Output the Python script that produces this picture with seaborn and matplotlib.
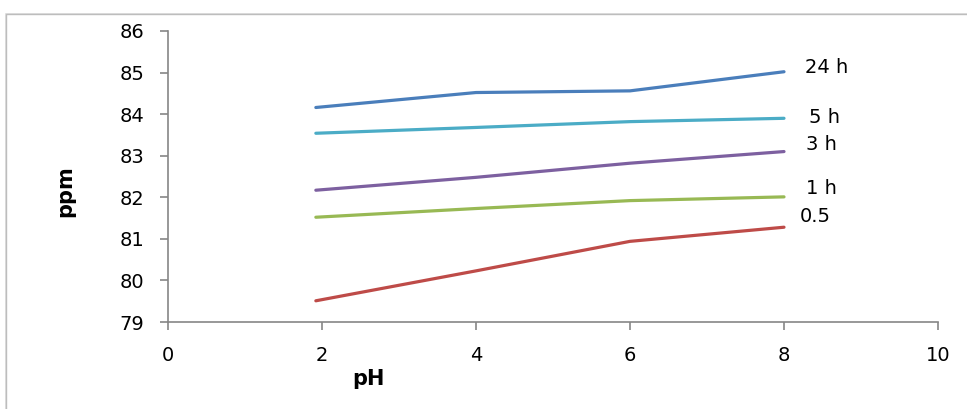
import matplotlib
matplotlib.use("Agg")
import matplotlib.pyplot as plt
from matplotlib.patches import Rectangle
import seaborn as sns
import pandas as pd

# pH values at which concentrations were measured
ph = [1.92, 4, 6, 8]

# concentration (ppm) for each contact time
series_names = ["24 h", "5 h", "3 h", "1 h", "0.5"]
ppm_24h = [84.16, 84.52, 84.56, 85.02]
ppm_5h = [83.54, 83.68, 83.82, 83.90]
ppm_3h = [82.17, 82.48, 82.82, 83.10]
ppm_1h = [81.52, 81.73, 81.92, 82.01]
ppm_05h = [79.51, 80.23, 80.94, 81.28]

colors = ["#4A7EBB", "#4BACC6", "#7D60A0", "#98B954", "#BE4B48"]

x_ticks = [0, 2, 4, 6, 8, 10]
y_ticks = [79, 80, 81, 82, 83, 84, 85, 86]

sns.set_theme(style="white")
plt.rcParams["font.family"] = ["DejaVu Sans"]

values = [ppm_24h, ppm_5h, ppm_3h, ppm_1h, ppm_05h]
df = pd.concat(
    [pd.DataFrame({"pH": ph, "ppm": v, "time": name}) for name, v in zip(series_names, values)],
    ignore_index=True,
)

fig = plt.figure(figsize=(9.67, 4.09), dpi=100)

# chart area frame with a soft shadow
for i, a in enumerate([0.05, 0.08, 0.12]):
    fig.patches.append(Rectangle((5 / 967 + (3 - i) * 0.0008, -0.1), 1.2, 1.1 - 13 / 409 - (3 - i) * 0.002,
                                 transform=fig.transFigure, facecolor="none",
                                 edgecolor=(0, 0, 0, a), linewidth=2.5 - i * 0.6, zorder=-10))
fig.patches.append(Rectangle((6 / 967, -0.1), 1.2, 1.1 - 14 / 409, transform=fig.transFigure,
                             facecolor="white", edgecolor="#BDBDBD", linewidth=1.0, zorder=-9))

ax = fig.add_axes([168 / 967, 1 - 322 / 409, (938 - 168) / 967, (322 - 31) / 409])
ax.set_facecolor("none")
ax.set_zorder(5)

sns.lineplot(data=df, x="pH", y="ppm", hue="time", palette=colors, linewidth=2.3,
             legend=False, ax=ax, sort=False)

ax.set_xlim(0, 10)
ax.set_ylim(79, 86)
ax.set_xticks(x_ticks)
ax.set_yticks(y_ticks)
ax.set_xticklabels([str(t) for t in x_ticks], fontsize=14, color="black")
ax.set_yticklabels([str(t) for t in y_ticks], fontsize=14, color="black")

for s in ["top", "right"]:
    ax.spines[s].set_visible(False)
for s in ["left", "bottom"]:
    ax.spines[s].set_color("#868686")
    ax.spines[s].set_linewidth(1.2)
ax.tick_params(axis="both", direction="out", length=6, width=1.2, color="#868686", pad=11,
               left=True, bottom=True)

ax.set_xlabel("pH", fontsize=15, fontweight="bold", color="black")
ax.xaxis.set_label_coords(0.26, -0.16)
ax.set_ylabel("ppm", fontsize=15, fontweight="bold", color="black")
ax.yaxis.set_label_coords(-0.12, 0.45)

# series labels to the right of the curves
label_x = [8.27, 8.32, 8.29, 8.29, 8.21]
label_y = [85.11, 83.91, 83.26, 82.22, 81.53]
for name, lx, ly in zip(series_names, label_x, label_y):
    ax.text(lx, ly, name, fontsize=14, color="black", va="center", ha="left", clip_on=False)

fig.savefig("out.png", dpi=100)
